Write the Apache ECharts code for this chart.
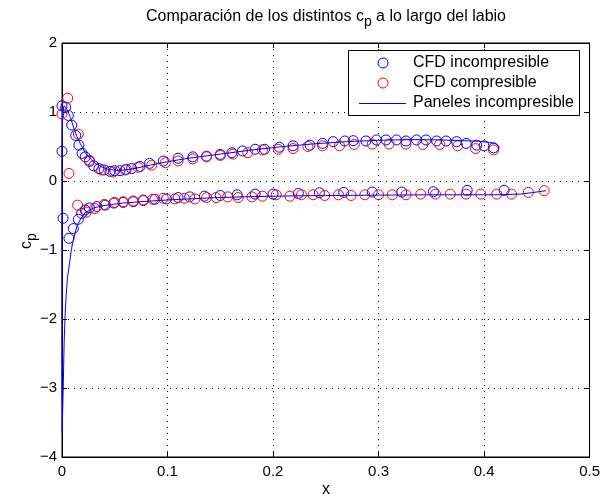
<!DOCTYPE html>
<html>
<head>
<meta charset="utf-8">
<script src="https://cdn.jsdelivr.net/npm/echarts@6/dist/echarts.min.js"></script>
<style>
  html, body { margin: 0; padding: 0; background: #fff; }
  #chart { width: 603px; height: 499px; }
</style>
</head>
<body>
<div id="chart"></div>
<script>
// Pressure coefficient along the lip: CFD (incompressible / compressible) and panel method
const incUpperX  = [0.000, 0.000, 0.0035, 0.006, 0.0092, 0.013, 0.016, 0.019, 0.022, 0.026,
                    0.030, 0.035, 0.040, 0.0455, 0.050, 0.055, 0.060, 0.066, 0.074, 0.083,
                    0.096, 0.110, 0.124, 0.137, 0.150, 0.161, 0.171, 0.183, 0.192, 0.206,
                    0.219, 0.235, 0.247, 0.257, 0.268, 0.276, 0.288, 0.298, 0.307, 0.317,
                    0.326, 0.336, 0.345, 0.355, 0.364, 0.374, 0.383, 0.393, 0.400, 0.409];
const incUpperCp = [0.43, 1.09, 1.07, 0.95, 0.81, 0.66, 0.52, 0.40, 0.35, 0.285,
                    0.22, 0.18, 0.16, 0.14, 0.15, 0.15, 0.16, 0.18, 0.21, 0.256,
                    0.29, 0.33, 0.35, 0.36, 0.385, 0.41, 0.435, 0.46, 0.46, 0.49,
                    0.51, 0.52, 0.545, 0.57, 0.58, 0.585, 0.58, 0.595, 0.595, 0.595,
                    0.58, 0.595, 0.595, 0.58, 0.58, 0.57, 0.545, 0.52, 0.51, 0.48];
const incLowerX  = [0.001, 0.0066, 0.0107, 0.0155, 0.0186, 0.022, 0.026, 0.033, 0.041, 0.049,
                    0.058, 0.0675, 0.077, 0.088, 0.099, 0.110, 0.121, 0.135, 0.150, 0.166,
                    0.183, 0.200, 0.224, 0.244, 0.267, 0.294, 0.322, 0.352, 0.384, 0.419];
const incLowerCp = [-0.54, -0.83, -0.69, -0.555, -0.47, -0.42, -0.39, -0.37, -0.35, -0.32,
                    -0.31, -0.30, -0.275, -0.265, -0.26, -0.24, -0.23, -0.22, -0.21, -0.20,
                    -0.19, -0.19, -0.18, -0.17, -0.165, -0.16, -0.16, -0.155, -0.135, -0.135];

const compUpperX  = [0.000, 0.0054, 0.0066, 0.0155, 0.026, 0.0375, 0.0486, 0.061, 0.072, 0.085,
                     0.098, 0.110, 0.124, 0.137, 0.150, 0.162, 0.176, 0.190, 0.205, 0.219,
                     0.233, 0.247, 0.263, 0.277, 0.294, 0.310, 0.326, 0.342, 0.358, 0.375,
                     0.392, 0.409];
const compUpperCp = [0.97, 1.20, 0.11, 0.68, 0.30, 0.16, 0.13, 0.17, 0.20, 0.23,
                     0.265, 0.29, 0.32, 0.35, 0.37, 0.39, 0.41, 0.45, 0.46, 0.47,
                     0.50, 0.51, 0.51, 0.53, 0.535, 0.535, 0.535, 0.53, 0.53, 0.51,
                     0.47, 0.45];
const compLowerX  = [0.0148, 0.023, 0.031, 0.040, 0.050, 0.058, 0.0675, 0.077, 0.086, 0.096,
                     0.107, 0.116, 0.126, 0.137, 0.146, 0.157, 0.167, 0.180, 0.190, 0.203,
                     0.216, 0.227, 0.238, 0.249, 0.262, 0.274, 0.287, 0.300, 0.313, 0.326,
                     0.340, 0.354, 0.368, 0.383, 0.397, 0.412, 0.426, 0.442, 0.457];
const compLowerCp = [-0.35, -0.45, -0.40, -0.34, -0.31, -0.30, -0.29, -0.285, -0.265, -0.25,
                     -0.26, -0.25, -0.26, -0.24, -0.24, -0.23, -0.24, -0.23, -0.22, -0.20,
                     -0.22, -0.20, -0.20, -0.21, -0.20, -0.21, -0.20, -0.20, -0.20, -0.20,
                     -0.19, -0.19, -0.19, -0.19, -0.19, -0.19, -0.19, -0.165, -0.14];

// Panel-method distribution, traced from the lower trailing end round the lip to the upper end
const panelX  = [0.459, 0.445, 0.434, 0.41, 0.38, 0.35, 0.30, 0.25, 0.20, 0.17,
                 0.14, 0.12, 0.10, 0.085, 0.07, 0.058, 0.047, 0.038, 0.030, 0.022,
                 0.018, 0.014, 0.0107, 0.009, 0.0076, 0.005, 0.004, 0.003, 0.002, 0.0013,
                 0.0006, 0.0002, 0.0, 0.0, 0.0005, 0.002, 0.005, 0.008, 0.011, 0.014,
                 0.018, 0.022, 0.027, 0.032, 0.038, 0.045, 0.052, 0.06, 0.07, 0.085,
                 0.10, 0.12, 0.15, 0.18, 0.21, 0.24, 0.27, 0.30, 0.33, 0.36,
                 0.38, 0.395, 0.405, 0.411, 0.414, 0.414];
const panelCp = [-0.14, -0.17, -0.19, -0.20, -0.20, -0.20, -0.205, -0.21, -0.22, -0.23,
                 -0.245, -0.26, -0.275, -0.29, -0.305, -0.32, -0.34, -0.36, -0.39, -0.46,
                 -0.54, -0.66, -0.86, -0.98, -1.14, -1.43, -1.65, -1.93, -2.35, -2.9,
                 -3.35, -3.65, -3.0, 0.5, 1.0, 1.09, 1.03, 0.92, 0.78, 0.65,
                 0.52, 0.41, 0.32, 0.25, 0.20, 0.165, 0.155, 0.16, 0.185, 0.235,
                 0.28, 0.33, 0.39, 0.45, 0.50, 0.54, 0.57, 0.59, 0.60, 0.595,
                 0.585, 0.575, 0.56, 0.54, 0.50, 0.46];

const xTicks = [0, 0.1, 0.2, 0.3, 0.4, 0.5];
const yTicks = [-4, -3, -2, -1, 0, 1, 2];

const seriesNames = ['CFD incompresible', 'CFD compresible', 'Paneles incompresible'];
const titleParts = ['Comparación de los distintos c', 'p', ' a lo largo del labio'];

const FONT = '"Liberation Sans", Arial, Helvetica, sans-serif';
const BLUE = '#0000ff';
const RED = '#ff0000';

function pairs(xs, ys) { return xs.map((x, i) => [x, ys[i]]); }
const incData = pairs(incUpperX, incUpperCp).concat(pairs(incLowerX, incLowerCp));
const compData = pairs(compUpperX, compUpperCp).concat(pairs(compLowerX, compLowerCp));
const panelData = pairs(panelX, panelCp);

const measureCtx = document.createElement('canvas').getContext('2d');
function textW(str, size) {
  measureCtx.font = size + 'px ' + FONT;
  return measureCtx.measureText(str).width;
}

const grid = { left: 62, right: 13, top: 43, bottom: 42 };
const plotCx = grid.left + (603 - grid.left - grid.right) / 2;

// title with subscripted p
const tSize = 16, tSub = 14;
const tw0 = textW(titleParts[0], tSize), tw1 = textW(titleParts[1], tSub), tw2 = textW(titleParts[2], tSize);
const tx0 = plotCx - (tw0 + tw1 + tw2) / 2;
const titleY = 17;

// y-axis label c_p (rotated)
const lSize = 16;
const lwC = textW('c', lSize), lwP = textW('p', 14);

function txt(x, y, s, size, extra) {
  return Object.assign({
    type: 'text', x: x, y: y, silent: true,
    style: { text: s, font: size + 'px ' + FONT, fill: '#000', textAlign: 'left', textVerticalAlign: 'middle' }
  }, extra || {});
}

const legendX = 348.5, legendY = 50.5;
const graphics = [
  txt(tx0, titleY, titleParts[0], tSize),
  txt(tx0 + tw0, titleY + 5, titleParts[1], tSub),
  txt(tx0 + tw0 + tw1, titleY, titleParts[2], tSize),
  {
    type: 'group', x: 27, y: 241, rotation: Math.PI / 2, silent: true,
    children: [
      txt(-(lwC + lwP) / 2, 0, 'c', lSize),
      txt(-(lwC + lwP) / 2 + lwC, 5, 'p', 14)
    ]
  },
  txt(plotCx - textW('x', 16) / 2, 490, 'x', 16),
  // legend
  { type: 'rect', silent: true, z: 100,
    shape: { x: legendX, y: legendY, width: 231, height: 65 },
    style: { fill: '#fff', stroke: '#000', lineWidth: 1 } },
  { type: 'circle', silent: true, z: 101,
    shape: { cx: 383, cy: 63, r: 5 }, style: { fill: 'none', stroke: BLUE, lineWidth: 1 } },
  { type: 'circle', silent: true, z: 101,
    shape: { cx: 383, cy: 83, r: 5 }, style: { fill: 'none', stroke: RED, lineWidth: 1 } },
  { type: 'line', silent: true, z: 101,
    shape: { x1: 359, y1: 103.5, x2: 406, y2: 103.5 }, style: { stroke: BLUE, lineWidth: 1 } },
  txt(413, 63, seriesNames[0], 16, { z: 101 }),
  txt(413, 83, seriesNames[1], 16, { z: 101 }),
  txt(413, 103, seriesNames[2], 16, { z: 101 })
];

const chart = echarts.init(document.getElementById('chart'), null, { renderer: 'canvas' });

const minus = v => (v < 0 ? '\u2212' + Math.abs(v) : String(v));
const dotted = { show: true, lineStyle: { type: [1, 5], color: '#000', width: 1 } };

chart.setOption({
  animation: false,
  backgroundColor: '#fff',
  grid: Object.assign({ show: true, borderColor: '#000', borderWidth: 1, backgroundColor: 'transparent' }, grid),
  xAxis: [
    {
      type: 'value', min: xTicks[0], max: xTicks[xTicks.length - 1], interval: 0.1,
      position: 'bottom',
      axisLine: { show: true, onZero: false, lineStyle: { color: '#000', width: 1 } },
      axisTick: { show: true, inside: true, length: 5, lineStyle: { color: '#000' } },
      axisLabel: { color: '#000', fontSize: 15, fontFamily: FONT, margin: 7,
        formatter: v => String(Math.round(v * 10) / 10) },
      splitLine: dotted
    },
    {
      type: 'value', min: xTicks[0], max: xTicks[xTicks.length - 1], interval: 0.1,
      position: 'top',
      axisLine: { show: true, onZero: false, lineStyle: { color: '#000', width: 1 } },
      axisTick: { show: true, inside: true, length: 5, lineStyle: { color: '#000' } },
      axisLabel: { show: false }, splitLine: { show: false }
    }
  ],
  yAxis: [
    {
      type: 'value', min: yTicks[0], max: yTicks[yTicks.length - 1], interval: 1,
      position: 'left',
      axisLine: { show: true, onZero: false, lineStyle: { color: '#000', width: 1 } },
      axisTick: { show: true, inside: true, length: 5, lineStyle: { color: '#000' } },
      axisLabel: { color: '#000', fontSize: 15, fontFamily: FONT, margin: 5, formatter: minus },
      splitLine: dotted
    },
    {
      type: 'value', min: yTicks[0], max: yTicks[yTicks.length - 1], interval: 1,
      position: 'right',
      axisLine: { show: true, onZero: false, lineStyle: { color: '#000', width: 1 } },
      axisTick: { show: true, inside: true, length: 5, lineStyle: { color: '#000' } },
      axisLabel: { show: false }, splitLine: { show: false }
    }
  ],
  series: [
    {
      name: seriesNames[0], type: 'scatter', data: incData, z: 3,
      symbol: 'circle', symbolSize: 10,
      itemStyle: { color: 'transparent', borderColor: BLUE, borderWidth: 1, opacity: 1 },
      emphasis: { disabled: true }
    },
    {
      name: seriesNames[1], type: 'scatter', data: compData, z: 4,
      symbol: 'circle', symbolSize: 10,
      itemStyle: { color: 'transparent', borderColor: RED, borderWidth: 1, opacity: 1 },
      emphasis: { disabled: true }
    },
    {
      name: seriesNames[2], type: 'line', data: panelData, z: 5,
      showSymbol: false, symbol: 'none', smooth: false,
      lineStyle: { color: BLUE, width: 1 },
      emphasis: { disabled: true }
    }
  ],
  graphic: graphics
});
</script>
</body>
</html>
